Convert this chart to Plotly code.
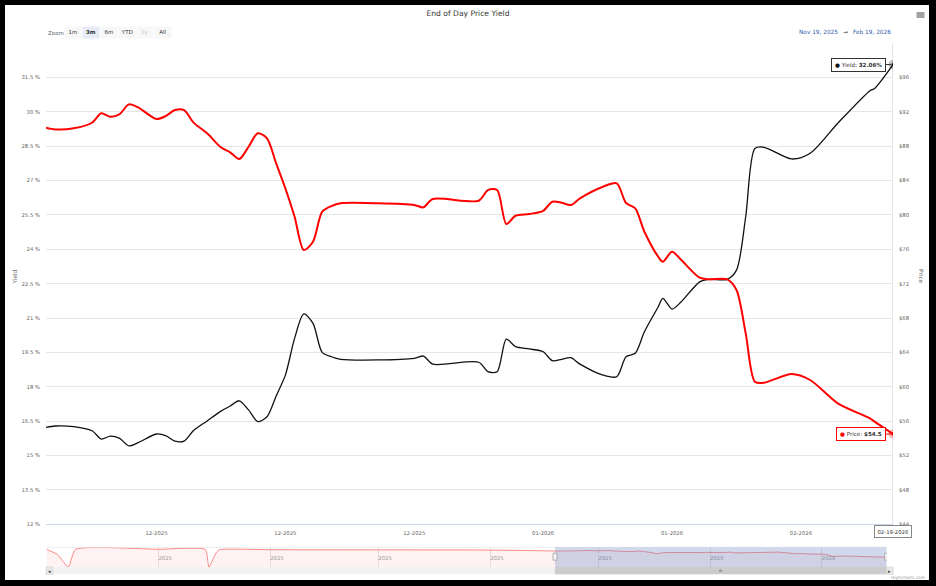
import plotly.graph_objects as go
import pandas as pd

# ---------------- data ----------------
dates = [
    "2025-11-19", "2025-11-20", "2025-11-22", "2025-11-24", "2025-11-25", "2025-11-26",
    "2025-11-27", "2025-11-28", "2025-11-29", "2025-12-01", "2025-12-02", "2025-12-03",
    "2025-12-04", "2025-12-05", "2025-12-06 12:00", "2025-12-08", "2025-12-09", "2025-12-10",
    "2025-12-11", "2025-12-12", "2025-12-13", "2025-12-14", "2025-12-15", "2025-12-16",
    "2025-12-17", "2025-12-18", "2025-12-19", "2025-12-20", "2025-12-21", "2025-12-25",
    "2025-12-29", "2025-12-30", "2025-12-31", "2026-01-05", "2026-01-06", "2026-01-07",
    "2026-01-08", "2026-01-09", "2026-01-10 12:00", "2026-01-12", "2026-01-13", "2026-01-14",
    "2026-01-15", "2026-01-16", "2026-01-18 12:00", "2026-01-20", "2026-01-21", "2026-01-22",
    "2026-01-23", "2026-01-24 12:00", "2026-01-25", "2026-01-26", "2026-01-27", "2026-01-29",
    "2026-01-30", "2026-02-01", "2026-02-02", "2026-02-03", "2026-02-04", "2026-02-05",
    "2026-02-08", "2026-02-10", "2026-02-13", "2026-02-16 12:00", "2026-02-17", "2026-02-19",
]
price = [
    90.14, 89.95, 90.07, 90.72, 91.82, 91.42,
    91.73, 92.86, 92.51, 91.15, 91.50, 92.20,
    92.20, 90.77, 89.49, 87.86, 87.28, 86.50,
    87.93, 89.49, 88.91, 86.00, 83.09, 79.79,
    75.91, 76.88, 80.37, 81.03, 81.35, 81.35,
    81.15, 80.88, 81.85, 81.65, 82.89, 82.89,
    78.94, 79.90, 80.10, 80.48, 81.53, 81.42,
    81.15, 81.93, 83.28, 83.67, 81.38, 80.76,
    78.04, 75.13, 74.55, 75.71, 74.75, 72.69,
    72.50, 72.50, 71.26, 66.22, 60.59, 60.47,
    61.49, 60.79, 58.08, 56.33, 55.94, 54.5,
]
yield_pct = [
    16.23, 16.29, 16.26, 16.08, 15.72, 15.85,
    15.75, 15.42, 15.56, 15.94, 15.87, 15.63,
    15.63, 16.08, 16.51, 16.94, 17.16, 17.39,
    16.99, 16.48, 16.69, 17.60, 18.51, 20.11,
    21.18, 20.77, 19.50, 19.31, 19.20, 19.17,
    19.24, 19.34, 18.99, 19.07, 18.66, 18.66,
    20.08, 19.75, 19.65, 19.53, 19.14, 19.20,
    19.27, 18.99, 18.51, 18.44, 19.31, 19.46,
    20.40, 21.49, 21.86, 21.39, 21.71, 22.58,
    22.69, 22.69, 23.09, 25.42, 28.40, 28.45,
    27.94, 28.19, 29.50, 30.92, 31.02, 32.06,
]

# navigator history before the zoomed window (price)
nav_dates_early = [
    "2025-07-01", "2025-07-04", "2025-07-07", "2025-07-09", "2025-08-01", "2025-08-14",
    "2025-08-15", "2025-08-17", "2025-08-18", "2025-09-01", "2025-10-01", "2025-10-29",
    "2025-11-10",
]
nav_price_early = [99.5, 70.0, 0.0, 99.0, 99.5, 98.5, 0.0, 80.0, 97.5, 97.2, 96.4, 95.5, 93.0]

yield_ticks = [12, 13.5, 15, 16.5, 18, 19.5, 21, 22.5, 24, 25.5, 27, 28.5, 30, 31.5, 33]
price_ticks = [44, 48, 52, 56, 60, 64, 68, 72, 76, 80, 84, 88, 92, 96, 100]
x_ticks = ["2025-12-01", "2025-12-15", "2025-12-29", "2026-01-12", "2026-01-26", "2026-02-09"]
nav_ticks = ["2025-08-01", "2025-09-01", "2025-10-01", "2025-11-01", "2025-12-01",
             "2026-01-01", "2026-02-01"]
range_buttons = ["1m", "3m", "6m", "YTD", "1y", "All"]
active_button = "3m"
disabled_button = "1y"

TITLE = "End of Day Price Yield"
FONT = "DejaVu Sans"

# ---------------- geometry helpers (pixel -> paper) ----------------
L, R, T, B = 46, 893, 43, 567
W, H = 936, 586


def px(x):
    return (x - L) / (R - L)


def py(y):
    return (B - y) / (B - T)


yield_text = [f"{v:g} %" for v in yield_ticks[:-1]] + [""]
price_text = [f"${v:g}" for v in price_ticks[:-1]] + [""]

fig = go.Figure()

# main series
fig.add_trace(go.Scatter(
    x=dates, y=yield_pct, mode="lines", name="Yield",
    line=dict(color="#111111", width=1.3, shape="spline", smoothing=0.8),
    xaxis="x", yaxis="y", hoverinfo="skip", showlegend=False))
fig.add_trace(go.Scatter(
    x=dates, y=price, mode="lines", name="Price",
    line=dict(color="#ff0000", width=2, shape="spline", smoothing=0.8),
    xaxis="x", yaxis="y2", hoverinfo="skip", showlegend=False))

# hover markers on the last point
fig.add_trace(go.Scatter(x=[dates[-1]], y=[yield_pct[-1]], mode="markers",
                         marker=dict(size=9, color="rgba(0,0,0,0.25)"),
                         xaxis="x", yaxis="y", hoverinfo="skip", showlegend=False))
fig.add_trace(go.Scatter(x=[dates[-1]], y=[yield_pct[-1]], mode="markers",
                         marker=dict(size=3, color="#111111"),
                         xaxis="x", yaxis="y", hoverinfo="skip", showlegend=False))
fig.add_trace(go.Scatter(x=[dates[-1]], y=[price[-1]], mode="markers",
                         marker=dict(size=9, color="rgba(255,0,0,0.25)"),
                         xaxis="x", yaxis="y2", hoverinfo="skip", showlegend=False))
fig.add_trace(go.Scatter(x=[dates[-1]], y=[price[-1]], mode="markers",
                         marker=dict(size=3.5, color="#ff0000"),
                         xaxis="x", yaxis="y2", hoverinfo="skip", showlegend=False))

# navigator series
fig.add_trace(go.Scatter(
    x=nav_dates_early + dates, y=nav_price_early + price, mode="lines",
    line=dict(color="rgba(255,0,0,0.45)", width=1, shape="spline", smoothing=0.5),
    fill="tozeroy", fillcolor="rgba(255,0,0,0.05)",
    xaxis="x2", yaxis="y3", hoverinfo="skip", showlegend=False))

tick_font = dict(family=FONT, size=5.3, color="#666666")

shapes = [
    # white page inside the black frame
    dict(type="rect", xref="paper", yref="paper", x0=px(5), x1=px(929), y0=py(580), y1=py(5),
         fillcolor="white", line=dict(width=0), layer="below"),
    # crosshair
    dict(type="line", xref="x", yref="y domain", x0=dates[-1], x1=dates[-1], y0=0, y1=1,
         line=dict(color="#cccccc", width=1), layer="below"),
    # navigator top outline
    dict(type="line", xref="paper", yref="paper", x0=px(46.7), x1=px(886.7),
         y0=py(547.3), y1=py(547.3), line=dict(color="#e0e0e0", width=0.6), layer="above"),
    # navigator mask over selected range
    dict(type="rect", xref="x2", yref="y3 domain", x0=dates[0], x1=dates[-1], y0=0, y1=1,
         fillcolor="rgba(102,133,194,0.3)", line=dict(width=0), layer="above"),
    # scrollbar track
    dict(type="rect", xref="paper", yref="paper", x0=px(46), x1=px(893), y0=py(574.3), y1=py(566.9),
         fillcolor="#f2f2f2", line=dict(width=0), layer="above"),
    # scrollbar thumb
    dict(type="rect", xref="x2", yref="paper", x0=dates[0], x1=dates[-1], y0=py(574.3), y1=py(566.9),
         fillcolor="#cccccc", line=dict(width=0), layer="above"),
    # scrollbar buttons
    dict(type="rect", xref="paper", yref="paper", x0=px(46), x1=px(53), y0=py(574.3), y1=py(566.9),
         fillcolor="#e6e6e6", line=dict(color="#cccccc", width=0.5), layer="above"),
    dict(type="rect", xref="paper", yref="paper", x0=px(886.5), x1=px(893.3), y0=py(574.3), y1=py(566.9),
         fillcolor="#e6e6e6", line=dict(color="#cccccc", width=0.5), layer="above"),
]
# navigator handles
for d in (dates[0], dates[-1]):
    shapes.append(dict(type="rect", xref="x2", yref="paper", xsizemode="pixel", xanchor=d,
                       x0=-2, x1=2, ysizemode="pixel", yanchor=py(556.7), y0=-3.5, y1=3.5,
                       fillcolor="#f2f2f2", line=dict(color="#999999", width=0.7), layer="above"))
# hamburger menu
for yy in (13, 15, 17):
    shapes.append(dict(type="line", xref="paper", yref="paper", x0=px(916.5), x1=px(924.5),
                       y0=py(yy), y1=py(yy), line=dict(color="#666666", width=1.2), layer="above"))

annotations = []


def note(text, x, y, size=5.6, color="#333333", xanchor="center", **kw):
    annotations.append(dict(text=text, x=px(x), y=py(y), xref="paper", yref="paper",
                            showarrow=False, xanchor=xanchor, yanchor="middle",
                            font=dict(family=FONT, size=size, color=color), **kw))


# range selector
note("Zoom", 46, 32.6, size=5.5, color="#666666", xanchor="left")
for i, b in enumerate(range_buttons):
    active = b == active_button
    col = "#cccccc" if b == disabled_button else "#333333"
    note(f"<b>{b}</b>" if active else b, 73 + 17.95 * i, 32.7, size=5.5, color=col,
         bgcolor="#e6ebf5" if active else "#f7f7f7", width=15.7, height=10.7, borderpad=0)

# date range inputs
start_txt = pd.Timestamp(dates[0]).strftime("%b %d, %Y")
end_txt = pd.Timestamp(dates[-1]).strftime("%b %d, %Y")
note(start_txt, 839.5, 32.3, size=5.8, color="#335cad", xanchor="right")
note("→", 845, 32.3, size=5.8, color="#333333")
note(end_txt, 850.5, 32.3, size=5.8, color="#335cad", xanchor="left")

# axis titles
note("Yield", 14.5, 277, size=5.8, color="#666666", textangle=-90)
note("Price", 921, 277, size=5.8, color="#666666", textangle=90)

# tooltips
annotations.append(dict(
    x=dates[-1], y=yield_pct[-1], xref="x", yref="y",
    text=f'<span style="color:#111111">●</span> Yield: <b>{yield_pct[-1]:.2f}%</b>',
    showarrow=True, ax=-7, ay=0, arrowhead=0, arrowwidth=1, arrowcolor="#333333", standoff=2,
    xanchor="right", yanchor="middle", bgcolor="rgba(255,255,255,0.92)",
    bordercolor="#333333", borderwidth=1, borderpad=3,
    font=dict(family=FONT, size=5.6, color="#333333")))
annotations.append(dict(
    x=dates[-1], y=price[-1], xref="x", yref="y2",
    text=f'<span style="color:#ff0000">●</span> Price: <b>${price[-1]:g}</b>',
    showarrow=True, ax=-7, ay=0, arrowhead=0, arrowwidth=1, arrowcolor="#ff0000", standoff=2,
    xanchor="right", yanchor="middle", bgcolor="rgba(255,255,255,0.92)",
    bordercolor="#ff0000", borderwidth=1, borderpad=3,
    font=dict(family=FONT, size=5.6, color="#333333")))

# crosshair date label
annotations.append(dict(
    x=dates[-1], y=py(531.2), xref="x", yref="paper",
    text=pd.Timestamp(dates[-1]).strftime("%m-%d-%Y"), showarrow=False,
    xanchor="center", yanchor="middle", bgcolor="white", bordercolor="#888888",
    borderwidth=1, borderpad=2.5, font=dict(family=FONT, size=5.3, color="#333333")))

# scrollbar glyphs
note("◂", 49.5, 570.6, size=5, color="#333333")
note("▸", 889.9, 570.6, size=5, color="#333333")
mid = pd.Timestamp(dates[0]) + (pd.Timestamp(dates[-1]) - pd.Timestamp(dates[0])) / 2
annotations.append(dict(x=mid, y=py(570.6), xref="x2", yref="paper", text="III", showarrow=False,
                        xanchor="center", yanchor="middle",
                        font=dict(family=FONT, size=3.6, color="#333333")))

# credits
note("Highcharts.com", 927, 577, size=4.3, color="#999999", xanchor="right")

fig.update_layout(
    width=W, height=H,
    margin=dict(l=L, r=W - R, t=T, b=H - B, pad=0),
    paper_bgcolor="black", plot_bgcolor="white",
    font=dict(family=FONT, color="#333333"),
    title=dict(text=TITLE, x=0.5, xref="container", xanchor="center",
               y=1 - 13 / H, yref="container", yanchor="middle",
               font=dict(family=FONT, size=7.6, color="#333333")),
    showlegend=False, hovermode=False,
    xaxis=dict(domain=[0, 1], anchor="y", type="date", range=[dates[0], dates[-1]],
               tickvals=x_ticks, tickformat="%m-%Y", showgrid=False, zeroline=False,
               showline=True, linecolor="#ccd6eb", linewidth=1, ticks="",
               tickfont=tick_font, ticklabelstandoff=3, fixedrange=True),
    yaxis=dict(domain=[py(524.3), 1], anchor="x", range=[12, 33],
               tickmode="array", tickvals=yield_ticks, ticktext=yield_text,
               showgrid=True, gridcolor="#e6e6e6", gridwidth=1, zeroline=False,
               showline=False, ticks="", tickfont=tick_font, ticklabelstandoff=5,
               fixedrange=True),
    yaxis2=dict(overlaying="y", side="right", anchor="x", range=[44, 100],
                tickmode="array", tickvals=price_ticks, ticktext=price_text,
                showgrid=False, zeroline=False, showline=False, ticks="",
                tickfont=tick_font, ticklabelstandoff=5, fixedrange=True),
    xaxis2=dict(domain=[px(46.7), px(886.7)], anchor="y3", type="date",
                range=[nav_dates_early[0], dates[-1]], tickvals=nav_ticks, tickformat="%Y",
                ticklabelposition="inside right", showgrid=True, gridcolor="#e6e6e6",
                zeroline=False, showline=False, ticks="",
                tickfont=dict(family=FONT, size=5.3, color="#999999"), fixedrange=True),
    yaxis3=dict(domain=[0, py(547.3)], anchor="x2", range=[0, 110.7], visible=False,
                fixedrange=True),
    shapes=shapes,
    annotations=annotations,
)

fig.write_html(
    "out.html",
    config={"displayModeBar": False},
    post_script="document.body.style.margin='0px';document.body.style.overflow='hidden';"
                "document.body.style.background='black';",
)
